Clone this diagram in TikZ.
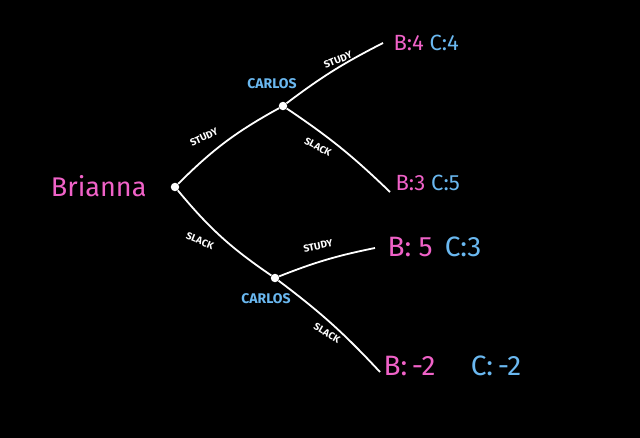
\documentclass[tikz,border=0pt]{standalone}
\usepackage{fontspec}
\setmainfont{Fira Sans}
\definecolor{pk}{HTML}{F062C8}
\definecolor{bl}{HTML}{6AB8F0}
\begin{document}
\begin{tikzpicture}[x=1pt,y=-1pt,
  br/.style={draw=white,line width=1.8pt},
  dotn/.style={circle,fill=white,inner sep=3pt},
  lab/.style={text=white,font=\fontsize{10}{11}\selectfont\bfseries,inner sep=0pt},
  pay/.style={font=\fontsize{22}{24}\selectfont}]
\fill[black] (0,0) rectangle (640,438);
\node[dotn] (a) at (175,187) {};
\node[dotn] (c1) at (283,106) {};
\node[dotn] (c2) at (275,278) {};
\coordinate (e1) at (383,43);
\coordinate (e2) at (390,192);
\coordinate (e3) at (375,248);
\coordinate (e4) at (380,372);
\draw[br] (a) to[bend left=8] (c1);
\draw[br] (a) to[bend right=8] (c2);
\draw[br] (c1) to[bend left=5] (e1);
\draw[br] (c1) to[bend left=5] (e2);
\draw[br] (c2) to[bend left=5] (e3);
\draw[br] (c2) to[bend left=5] (e4);
\node[text=pk,font=\fontsize{27}{30}\selectfont,anchor=east] (bn) at (150,186) {Brianna};
\node[text=bl,font=\fontsize{14}{15}\selectfont\bfseries] (cl1) at (272,84) {CARLOS};
\node[text=bl,font=\fontsize{14}{15}\selectfont\bfseries] (cl2) at (266,299) {CARLOS};
\node[lab,rotate=25] (s1) at (204,137) {STUDY};
\node[lab,rotate=-22] (s2) at (200,241) {SLACK};
\node[lab,rotate=22] (s3) at (338,60) {STUDY};
\node[lab,rotate=-28] (s4) at (318,147) {SLACK};
\node[lab,rotate=12] (s5) at (318,246) {STUDY};
\node[lab,rotate=-30] (s6) at (327,333) {SLACK};
\node[pay,anchor=west] (p1) at (390,43) {\textcolor{pk}{B:4} \textcolor{bl}{C:4}};
\node[pay,anchor=west] (p2) at (392,183) {\textcolor{pk}{B:3} \textcolor{bl}{C:5}};
\node[pay,anchor=west,font=\fontsize{28}{30}\selectfont] (p3) at (384,247) {\textcolor{pk}{B: 5} \textcolor{bl}{\,C:3}};
\node[pay,anchor=west,font=\fontsize{28}{30}\selectfont] (p4) at (380,366) {\textcolor{pk}{B:\,-2} \textcolor{bl}{\quad C:\,-2}};
\end{tikzpicture}
\end{document}
